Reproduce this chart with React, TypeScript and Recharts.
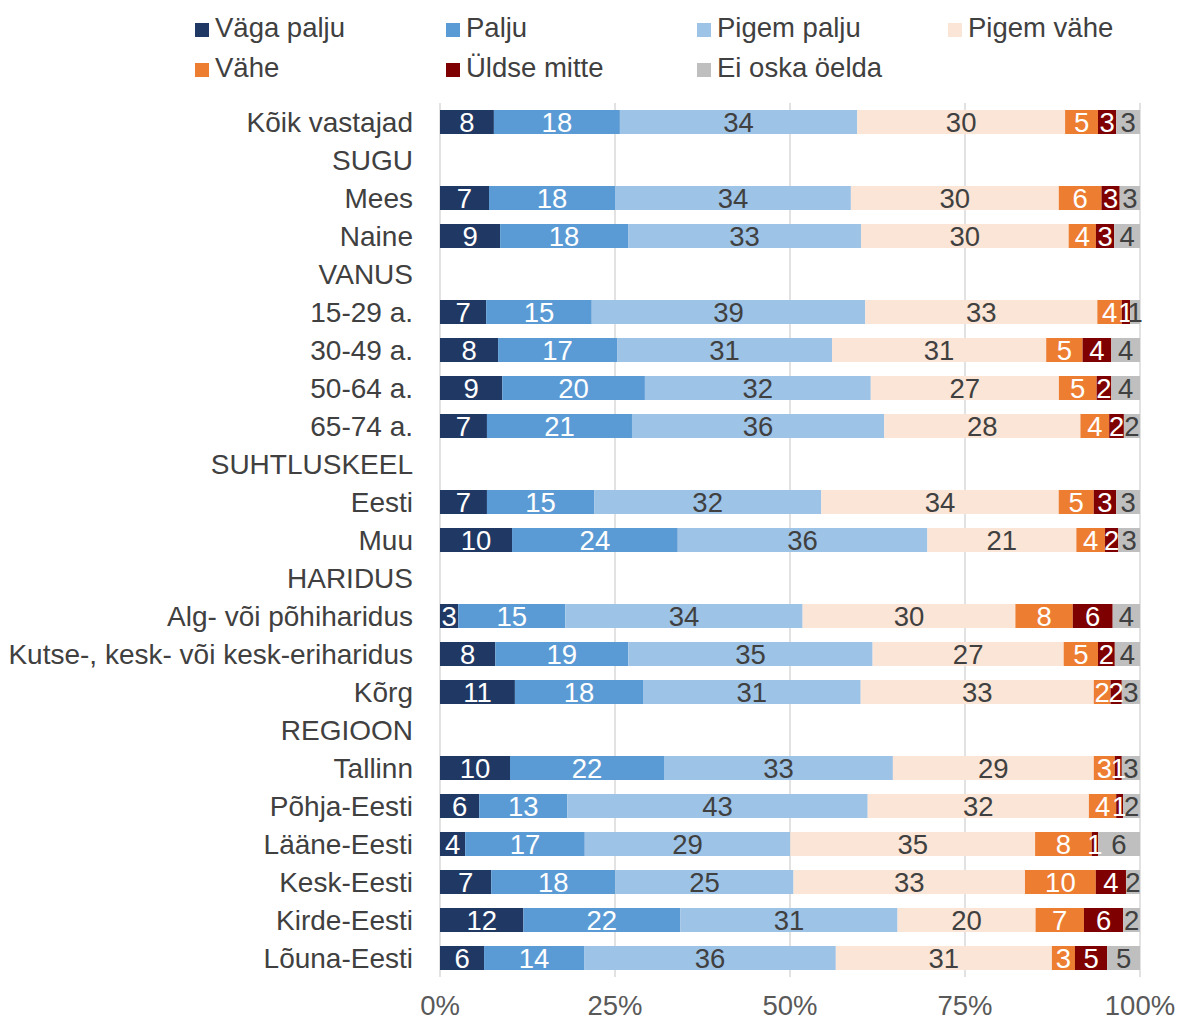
import React from 'react';
import { BarChart, Bar, XAxis, YAxis, CartesianGrid, LabelList } from 'recharts';

const categories = [
  'Kõik vastajad', 'SUGU', 'Mees', 'Naine', 'VANUS', '15-29 a.', '30-49 a.', '50-64 a.', '65-74 a.',
  'SUHTLUSKEEL', 'Eesti', 'Muu', 'HARIDUS', 'Alg- või põhiharidus', 'Kutse-, kesk- või kesk-eriharidus', 'Kõrg',
  'REGIOON', 'Tallinn', 'Põhja-Eesti', 'Lääne-Eesti', 'Kesk-Eesti', 'Kirde-Eesti', 'Lõuna-Eesti',
];

const vagaPalju = [7.7, null, 7.0, 8.6, null, 6.6, 8.3, 8.9, 6.7, null, 6.7, 10.3, null, 2.6, 7.9, 10.7, null, 10.0, 5.6, 3.6, 7.3, 11.9, 6.3];
const palju = [18.0, null, 18.0, 18.3, null, 15.1, 17.0, 20.4, 20.7, null, 15.3, 23.7, null, 15.3, 19.0, 18.3, null, 22.0, 12.6, 17.1, 17.7, 22.4, 14.3];
const pigemPalju = [33.9, null, 33.7, 33.3, null, 39.1, 30.7, 32.3, 36.0, null, 32.4, 35.7, null, 33.9, 34.9, 31.1, null, 32.7, 42.9, 29.4, 25.4, 31.0, 36.0];
const pigemVahe = [29.7, null, 29.7, 29.7, null, 33.2, 30.6, 26.9, 28.0, null, 33.9, 21.3, null, 30.4, 27.3, 33.3, null, 28.7, 31.6, 35.0, 33.0, 19.7, 30.9];
const vahe = [4.7, null, 6.1, 3.9, null, 3.5, 5.2, 5.4, 4.1, null, 5.0, 4.1, null, 8.2, 4.9, 2.4, null, 3.0, 3.9, 8.1, 10.1, 6.9, 3.3];
const uldseMitte = [2.6, null, 2.6, 2.6, null, 1.2, 4.1, 2.1, 2.1, null, 3.2, 1.9, null, 5.7, 2.4, 1.6, null, 1.0, 1.0, 0.9, 4.3, 5.6, 4.6];
const eiOska = [3.4, null, 2.9, 3.7, null, 1.4, 4.1, 4.1, 2.3, null, 3.4, 3.1, null, 3.9, 3.6, 2.6, null, 2.6, 2.4, 6.0, 2.0, 2.4, 4.7];

const xTicks = [0, 0.25, 0.5, 0.75, 1];

const series = [
  { key: 's1', name: 'Väga palju', values: vagaPalju, color: '#203864', text: '#ffffff' },
  { key: 's2', name: 'Palju', values: palju, color: '#5b9bd5', text: '#ffffff' },
  { key: 's3', name: 'Pigem palju', values: pigemPalju, color: '#9dc3e6', text: '#404040' },
  { key: 's4', name: 'Pigem vähe', values: pigemVahe, color: '#fbe5d6', text: '#404040' },
  { key: 's5', name: 'Vähe', values: vahe, color: '#ed7d31', text: '#ffffff' },
  { key: 's6', name: 'Üldse mitte', values: uldseMitte, color: '#7f0000', text: '#ffffff' },
  { key: 's7', name: 'Ei oska öelda', values: eiOska, color: '#bfbfbf', text: '#404040' },
];

const data = categories.map((name, i) => {
  const row: Record<string, any> = { name };
  series.forEach((s) => {
    row[s.key] = s.values[i];
  });
  return row;
});

const FONT = '"Liberation Sans", Arial, sans-serif';
const FS = 27.5;

const fmtLabel = (v: any) => (v == null || v === 0 ? '' : String(Math.round(Number(v))));

export default function App() {
  return (
    <div style={{ position: 'absolute', left: 0, top: 0, width: 1178, height: 1021, background: '#fff', fontFamily: FONT }}>
      {series.map((s, i) => {
        const col = i % 4;
        const row = Math.floor(i / 4);
        return (
          <div
            key={s.key}
            style={{
              position: 'absolute',
              left: 195 + col * 251,
              top: 12 + row * 40,
              height: 32,
              display: 'flex',
              alignItems: 'center',
              fontSize: FS,
              color: '#404040',
              whiteSpace: 'nowrap',
            }}
          >
            <span style={{ display: 'inline-block', width: 14, height: 14, background: s.color, marginRight: 6, marginTop: 4 }} />
            <span>{s.name}</span>
          </div>
        );
      })}
      <BarChart
        width={1178}
        height={1021}
        data={data}
        layout="vertical"
        stackOffset="expand"
        barSize={24}
        margin={{ top: 103, right: 38, bottom: 0, left: 0 }}
        style={{ fontFamily: FONT }}
      >
        <CartesianGrid horizontal={false} vertical={true} stroke="#d9d9d9" strokeWidth={1.5} />
        <XAxis
          type="number"
          domain={[0, 1]}
          ticks={xTicks}
          tickFormatter={(v: number) => `${Math.round(v * 100)}%`}
          axisLine={false}
          tickLine={false}
          tickMargin={12}
          height={44}
          tick={{ fontSize: FS, fill: '#595959', fontFamily: FONT }}
        />
        <YAxis
          type="category"
          dataKey="name"
          width={440}
          interval={0}
          axisLine={false}
          tickLine={false}
          tickMargin={21}
          tick={{ fontSize: 28, fill: '#404040', fontFamily: FONT }}
        />
        {series.map((s) => (
          <Bar key={s.key} dataKey={s.key} name={s.name} stackId="a" fill={s.color} isAnimationActive={false}>
            <LabelList
              dataKey={s.key}
              position="center"
              formatter={fmtLabel}
              style={{ fontSize: FS, fill: s.text, fontFamily: FONT }}
            />
          </Bar>
        ))}
      </BarChart>
    </div>
  );
}
